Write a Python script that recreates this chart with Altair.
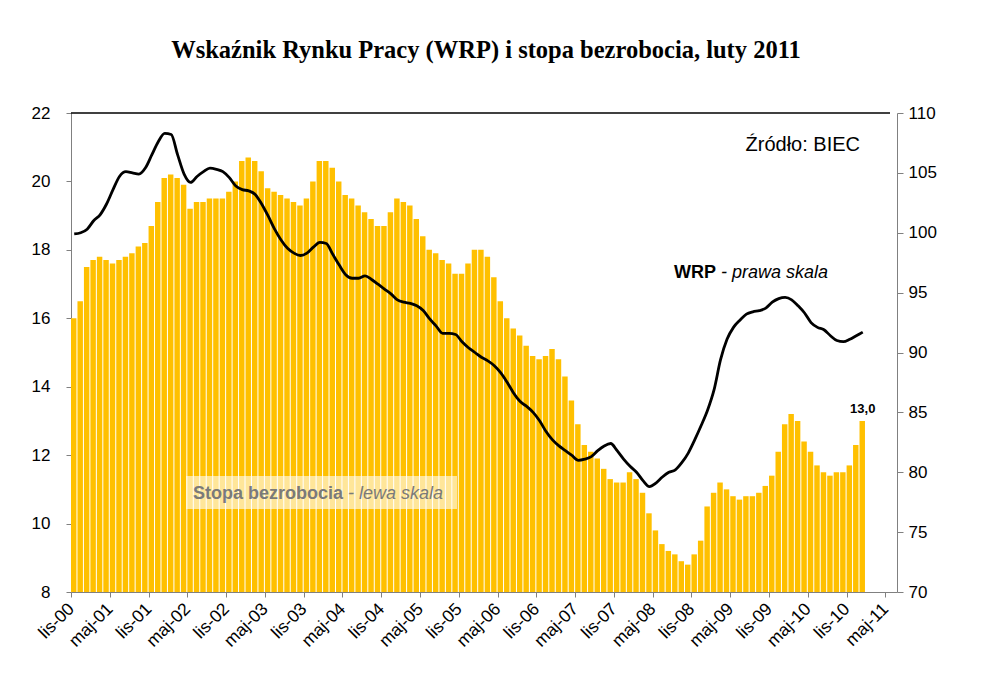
import altair as alt
import pandas as pd

# ---------------- data (monthly, lis-00 .. sty-11) ----------------
rate = [16.0, 16.5, 17.5, 17.7, 17.8, 17.7, 17.6, 17.7, 17.8, 17.9, 18.1, 18.2,
        18.7, 19.4, 20.1, 20.2, 20.1, 19.9, 19.2, 19.4, 19.4, 19.5, 19.5, 19.5,
        19.7, 20.0, 20.6, 20.7, 20.6, 20.3, 19.8, 19.7, 19.6, 19.5, 19.4, 19.3,
        19.5, 20.0, 20.6, 20.6, 20.4, 20.0, 19.6, 19.5, 19.3, 19.1, 18.9, 18.7,
        18.7, 19.1, 19.5, 19.4, 19.3, 18.9, 18.4, 18.0, 17.9, 17.7, 17.6, 17.3,
        17.3, 17.6, 18.0, 18.0, 17.8, 17.2, 16.5, 16.0, 15.7, 15.5, 15.2, 14.9,
        14.8, 14.9, 15.1, 14.8, 14.3, 13.6, 12.9, 12.3, 12.1, 11.9, 11.6, 11.3,
        11.2, 11.2, 11.5, 11.3, 10.9, 10.3, 9.8, 9.4, 9.2, 9.1, 8.9, 8.8,
        9.1, 9.5, 10.5, 10.9, 11.2, 11.0, 10.8, 10.7, 10.8, 10.8, 10.9, 11.1,
        11.4, 12.1, 12.9, 13.2, 13.0, 12.4, 12.1, 11.7, 11.5, 11.4, 11.5, 11.5,
        11.7, 12.3, 13.0]

wrp = [99.9, 100.0, 100.3, 101.0, 101.5, 102.4, 103.6, 104.7, 105.1, 105.0, 104.9, 105.4,
       106.5, 107.6, 108.3, 108.2, 106.5, 104.9, 104.2, 104.7, 105.1, 105.4, 105.3, 105.1,
       104.6, 103.9, 103.6, 103.5, 103.2, 102.4, 101.4, 100.3, 99.4, 98.7, 98.3, 98.1,
       98.3, 98.8, 99.2, 99.1, 98.2, 97.3, 96.5, 96.2, 96.2, 96.4, 96.1, 95.7,
       95.3, 94.9, 94.4, 94.2, 94.1, 93.9, 93.5, 92.8, 92.2, 91.6, 91.6, 91.5,
       90.9, 90.4, 90.0, 89.6, 89.3, 88.9, 88.3, 87.5, 86.6, 85.9, 85.5, 85.0,
       84.3, 83.4, 82.7, 82.2, 81.8, 81.4, 81.0, 81.1, 81.3, 81.8, 82.2, 82.4,
       81.8, 81.1, 80.5, 80.0, 79.3, 78.8, 79.1, 79.6, 80.0, 80.2, 80.8, 81.6,
       82.7, 83.9, 85.2, 86.9, 89.4, 91.1, 92.1, 92.7, 93.2, 93.4, 93.5, 93.7,
       94.2, 94.5, 94.6, 94.4, 93.9, 93.3, 92.5, 92.1, 91.9, 91.4, 91.0, 90.9,
       91.1, 91.4, 91.7]

tick_labels = ["lis-00", "maj-01", "lis-01", "maj-02", "lis-02", "maj-03", "lis-03",
               "maj-04", "lis-04", "maj-05", "lis-05", "maj-06", "lis-06", "maj-07",
               "lis-07", "maj-08", "lis-08", "maj-09", "lis-09", "maj-10", "lis-10",
               "maj-11"]
left_ticks = [8, 10, 12, 14, 16, 18, 20, 22]
right_ticks = [70, 75, 80, 85, 90, 95, 100, 105, 110]

title_text = "Wskaźnik Rynku Pracy (WRP) i stopa bezrobocia, luty 2011"
source_text = "Źródło: BIEC"

n = len(rate)
df = pd.DataFrame({"idx": list(range(n)), "rate": rate, "wrp": wrp})
df["start"] = df["idx"]
df["end"] = df["idx"] + 1
df["mid"] = df["idx"] + 0.5

last = df.tail(1).copy()
last["label"] = last["rate"].map(lambda v: f"{v:.1f}".replace(".", ","))

W, H = 826, 479
FONT = "Liberation Sans"
GRAY = "#808080"

x_scale = alt.Scale(domain=[0, 127.8], nice=False, zero=False)
y_left_scale = alt.Scale(domain=[8, 22], nice=False, zero=False)
label_js = "[" + ",".join(f"'{s}'" for s in tick_labels) + "]"
x_axis = alt.Axis(values=[6 * i for i in range(len(tick_labels))],
                  labelExpr=f"{label_js}[round(datum.value/6)]",
                  labelAngle=-45, labelAlign="right", labelBaseline="middle",
                  labelFontSize=17.5, labelFont=FONT, labelColor="black",
                  labelPadding=9, tickSize=5, tickColor=GRAY, domainColor=GRAY,
                  title=None, grid=False, labelOverlap=False, labelBound=False,
                  labelFlush=False)
y_left_axis = alt.Axis(orient="left", values=left_ticks, title=None, grid=False,
                       labelFontSize=17, labelFont=FONT, labelColor="black",
                       tickSize=5, labelPadding=16, tickColor=GRAY,
                       domainColor=GRAY)

bars = alt.Chart(df).mark_bar(color="#FFC000", x2Offset=-1).encode(
    x=alt.X("start:Q", scale=x_scale, axis=x_axis),
    x2="end:Q",
    y=alt.Y("rate:Q", scale=y_left_scale, axis=y_left_axis),
    y2=alt.datum(8),
)

last_label = alt.Chart(last).mark_text(font=FONT, fontSize=13, fontWeight="bold",
                                       baseline="bottom", dy=-5, color="black").encode(
    x=alt.X("mid:Q", scale=x_scale, axis=x_axis),
    y=alt.Y("rate:Q", scale=y_left_scale, axis=y_left_axis),
    text="label:N")

left_layer = alt.layer(bars, last_label)

line = alt.Chart(df).mark_line(color="black", strokeWidth=2.8, interpolate="monotone").encode(
    x=alt.X("mid:Q", scale=x_scale, axis=x_axis),
    y=alt.Y("wrp:Q", scale=alt.Scale(domain=[70, 110], nice=False, zero=False),
            axis=alt.Axis(orient="right", values=right_ticks, title=None, grid=False,
                          labelFontSize=17, labelFont=FONT, labelColor="black",
                          tickSize=6, labelPadding=5, tickColor=GRAY,
                          domainColor=GRAY)),
)

one = pd.DataFrame({"k": [0]})

top_rule = alt.Chart(one).mark_rule(color="black", strokeWidth=1.5).encode(
    x=alt.value(0), x2=alt.value(819), y=alt.value(0))

box = alt.Chart(one).mark_rect(fill="white", opacity=0.6).encode(
    x=alt.value(115), x2=alt.value(386), y=alt.value(363), y2=alt.value(396))


def txt(text, x, y, size, weight="normal", style="normal", align="left",
        color="black", font=FONT):
    return alt.Chart(pd.DataFrame({"t": [text]})).mark_text(
        font=font, fontSize=size, fontWeight=weight, fontStyle=style,
        align=align, baseline="alphabetic", color=color).encode(
        x=alt.value(x), y=alt.value(y), text="t:N")


title = txt(title_text, 415, -55, 24.5, weight="bold", align="center",
            font="Liberation Serif")
source = txt(source_text, 789, 38, 20, align="right")
wrp_a = txt("WRP", 603, 165, 18, weight="bold")
wrp_c = txt("- prawa skala", 650, 165, 18, style="italic")
st_a = txt("Stopa bezrobocia", 122, 386, 18, weight="bold", color="#7a7a7a")
st_c = txt("- lewa skala", 277, 386, 18, style="italic", color="#7a7a7a")

chart = alt.layer(
    left_layer, line, top_rule, box,
    title, source, wrp_a, wrp_c, st_a, st_c
).resolve_scale(y="independent").properties(
    width=W, height=H, autosize="none",
    padding={"left": 63, "top": 105, "right": 60, "bottom": 85},
    background="white",
).configure_view(stroke=None)

chart.save("out.html", embed_options={"renderer": "svg", "actions": False})
